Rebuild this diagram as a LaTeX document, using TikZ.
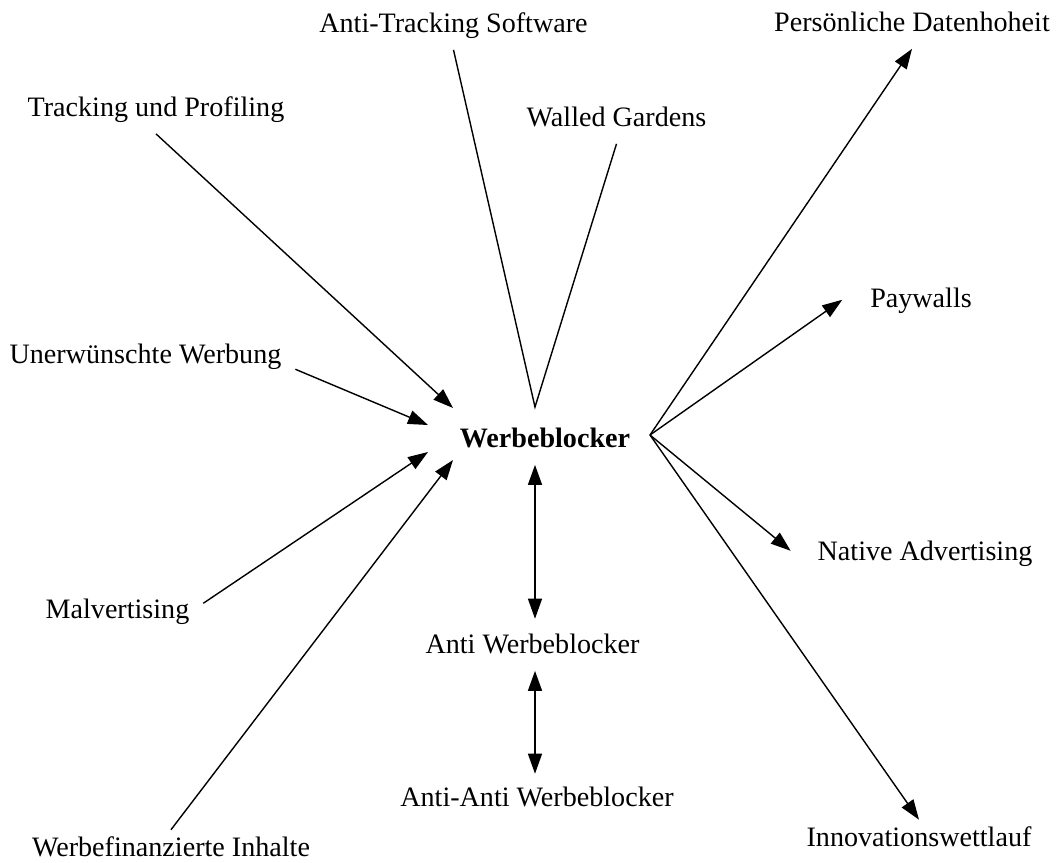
\documentclass[tikz,border=0pt]{standalone}
\usepackage{fontspec}
\setmainfont{Liberation Serif}
\usetikzlibrary{arrows.meta,calc}

\begin{document}
\begin{tikzpicture}[x=0.02cm,y=-0.02cm,
	lbl/.style={anchor=base,inner sep=0pt,outer sep=0.28cm,text height=0.7em,text depth=0.22em,font=\fontsize{16}{19}\selectfont},
	ln/.style={line width=0.8pt},
	arr/.style={ln,-{Triangle[length=0.4cm,width=0.28cm]}},
	dbl/.style={ln,{Triangle[length=0.4cm,width=0.28cm]}-{Triangle[length=0.4cm,width=0.28cm]}}]
	\useasboundingbox (0,0) rectangle (1063,863);
	\node[lbl] (ats) at (453.5,32) {Anti-Tracking Software};
	\node[lbl] (pdh) at (912,31) {Persönliche Datenhoheit};
	\node[lbl] (tup) at (156,116) {Tracking und Profiling};
	\node[lbl] (wg) at (616.5,126) {Walled Gardens};
	\node[lbl] (uw) at (145.5,363) {Unerwünschte Werbung};
	\node[lbl] (pw) at (921,307) {Paywalls};
	\node[lbl,font=\fontsize{16}{19}\selectfont\bfseries] (wb) at (545,447) {Werbeblocker};
	\node[lbl] (na) at (925,560) {Native Advertising};
	\node[lbl] (mv) at (117.5,618) {Malvertising};
	\node[lbl] (aw) at (532.5,653) {Anti Werbeblocker};
	\node[lbl] (aaw) at (537,806) {Anti-Anti Werbeblocker};
	\node[lbl] (wfi) at (171,856) {Werbefinanzierte Inhalte};
	\node[lbl] (iw) at (919,846) {Innovationswettlauf};
	\coordinate (in1) at (453,408);
	\coordinate (in2) at (428,425);
	\coordinate (in3) at (428,452);
	\coordinate (in4) at (453,460);
	\coordinate (out) at (650,435);
	\coordinate (apex) at (535,407);
	\draw[ln] (ats.south) -- (apex) -- (wg.south);
	\draw[arr] (tup.south) -- (in1);
	\draw[arr] (uw.-4) -- (in2);
	\draw[arr] (mv.7) -- (in3);
	\draw[arr] (wfi.north) -- (in4);
	\draw[arr] (out) -- (pdh.south);
	\draw[arr] (out) -- ($(pw.west)+(-14,-3)$);
	\draw[arr] (out) -- ($(na.west)+(-13,-5)$);
	\draw[arr] (out) -- (iw.north);
	\draw[dbl] (apex |- wb.south) -- ($(apex |- aw.north)+(0,-8)$);
	\draw[dbl] (apex |- aw.south) -- ($(apex |- aaw.north)+(0,-6)$);
\end{tikzpicture}
\end{document}
